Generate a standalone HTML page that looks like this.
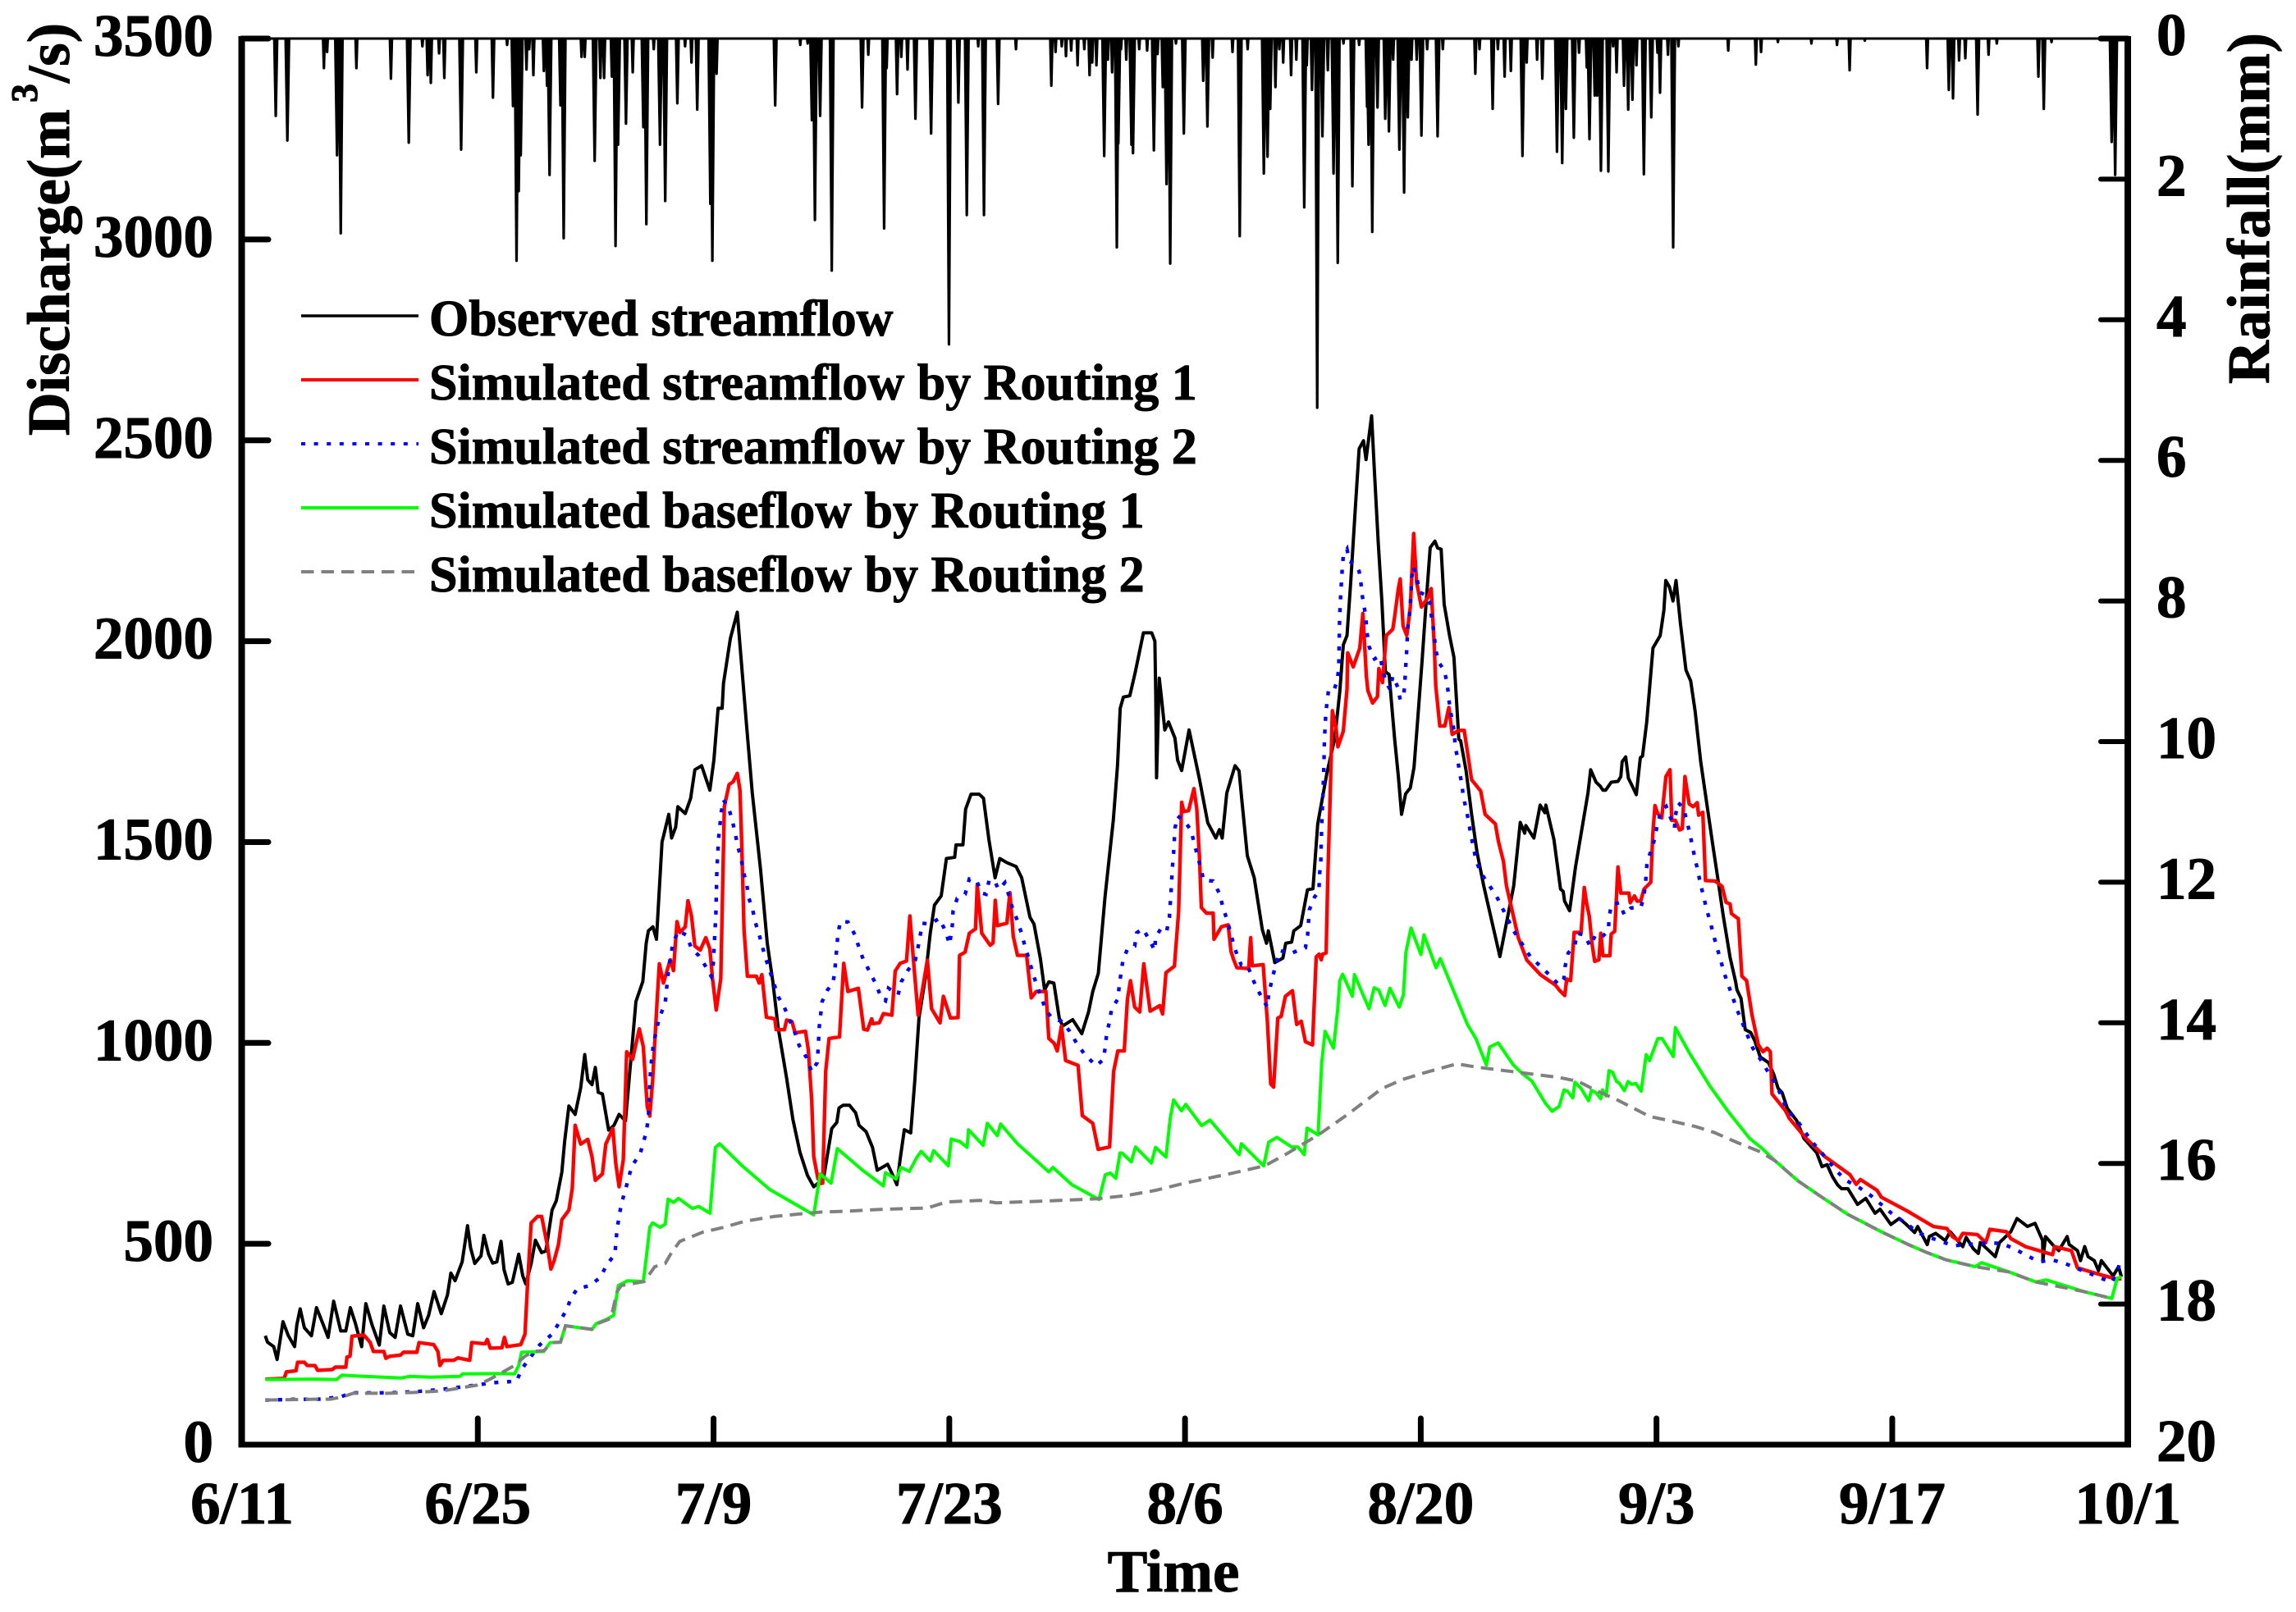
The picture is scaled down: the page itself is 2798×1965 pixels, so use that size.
<!DOCTYPE html>
<html>
<head>
<meta charset="utf-8">
<title>Discharge and rainfall hydrograph</title>
<style>
html,body{margin:0;padding:0;background:#fff;width:2798px;height:1965px;overflow:hidden}
svg{display:block}
text{font-family:"Liberation Serif",serif;font-weight:bold;fill:#000;stroke:#000;stroke-width:1px}
.tick-label{font-size:73px}
.legend-label{font-size:62px}
</style>
</head>
<body>
<svg id="chart" xmlns="http://www.w3.org/2000/svg" width="2798" height="1965" viewBox="0 0 2798 1965">
  <rect x="0" y="0" width="2798" height="1965" fill="#fff"/>
  <g id="series"></g>
  <g id="axes"></g>

  <text class="tick-label" x="1430" y="1940" text-anchor="middle">Time</text>
  <text class="tick-label" transform="translate(84,531) rotate(-90)" textLength="398">Discharge(m</text>
  <text transform="translate(45,125) rotate(-90)" style="font-size:46px">3</text>
  <text class="tick-label" transform="translate(84,101) rotate(-90)">/s)</text>
  <text class="tick-label" transform="translate(2765,468) rotate(-90)" textLength="428">Rainfall(mm)</text>

  <g>
    <g>
      <line x1="367" x2="510" y1="385" y2="385" stroke="#000" stroke-width="3.6"/>
      <text class="legend-label" x="523" y="409">Observed streamflow</text>
    </g>
    <g>
      <line x1="367" x2="510" y1="463" y2="463" stroke="#f00" stroke-width="4"/>
      <text class="legend-label" x="523" y="487">Simulated streamflow by Routing 1</text>
    </g>
    <g>
      <line x1="367" x2="510" y1="541" y2="541" stroke="#00f" stroke-width="4" stroke-dasharray="5 10.6"/>
      <text class="legend-label" x="523" y="565">Simulated streamflow by Routing 2</text>
    </g>
    <g>
      <line x1="367" x2="510" y1="619" y2="619" stroke="#0f0" stroke-width="4"/>
      <text class="legend-label" x="523" y="643">Simulated baseflow by Routing 1</text>
    </g>
    <g>
      <line x1="367" x2="510" y1="697" y2="697" stroke="#808080" stroke-width="4" stroke-dasharray="15.5 9"/>
      <text class="legend-label" x="523" y="721">Simulated baseflow by Routing 2</text>
    </g>
  </g>
</svg>
<script>
// Tick labels and tick values
const xTickDays = [0,14,28,42,56,70,84,98,112];
const xTickLabels = ["6/11","6/25","7/9","7/23","8/6","8/20","9/3","9/17","10/1"];
const dischargeTicks = [0,500,1000,1500,2000,2500,3000,3500];
const rainfallTicks = [0,2,4,6,8,10,12,14,16,18,20];

// Rainfall spikes: [day since 6/11, mm]
const rainfall = [[2.00,1.10],[2.69,1.45],[4.86,.42],[5.05,.19],[5.64,1.66],[5.86,2.77],[6.79,.42],[8.84,.57],[9.90,1.48],[10.71,.11],[11.02,.52],[11.21,.63],[11.70,.21],[12.01,.56],[13.01,1.58],[13.91,.48],[14.90,.84],[15.74,.09],[16.09,.96],[16.30,3.16],[16.43,2.17],[16.55,1.66],[16.89,.44],[17.05,.15],[17.30,.52],[17.92,.46],[18.11,.67],[18.26,1.94],[18.91,.95],[19.10,2.84],[20.16,.26],[20.35,.26],[20.94,1.74],[21.28,.56],[21.50,.56],[21.96,.54],[22.18,2.95],[22.33,1.51],[22.80,1.21],[23.20,.48],[23.83,1.26],[24.01,2.64],[24.45,.15],[24.82,1.51],[25.13,2.31],[25.85,.92],[26.31,.11],[26.69,.34],[27.03,1.01],[27.81,2.35],[27.93,3.16],[28.18,.50],[31.66,.95],[33.15,.09],[33.59,.07],[33.84,1.16],[34.02,2.58],[34.33,1.10],[35.02,3.30],[36.82,.98],[37.19,.23],[38.13,2.70],[38.28,.42],[38.90,.79],[39.15,.26],[39.52,.44],[39.99,1.14],[40.92,1.35],[41.98,4.35],[42.54,.91],[43.04,2.51],[43.72,.11],[44.06,2.51],[44.90,.93],[45.96,.15],[48.06,.67],[48.31,.19],[48.68,.11],[48.93,.25],[49.24,.17],[49.62,.38],[50.02,.15],[50.33,.52],[50.49,.34],[50.74,.38],[51.20,1.67],[51.42,.30],[51.67,.48],[51.95,2.97],[52.04,1.49],[52.20,.15],[52.51,.30],[52.82,1.51],[52.91,1.63],[53.28,.15],[53.75,.17],[54.15,1.59],[54.37,.22],[54.68,.69],[54.90,2.07],[55.12,3.20],[55.46,.07],[55.93,1.35],[57.08,.60],[57.33,1.25],[57.64,.27],[58.82,.19],[59.25,2.81],[59.72,.15],[60.68,1.92],[60.90,1.68],[61.06,1.00],[61.37,.69],[61.60,.15],[61.83,.34],[62.30,.52],[62.61,.30],[63.08,2.40],[63.23,.38],[63.54,.73],[63.85,5.25],[64.16,1.39],[64.48,.45],[64.82,1.92],[65.07,3.19],[65.41,.07],[65.94,2.10],[66.34,.09],[66.81,.97],[66.90,1.51],[67.12,2.75],[67.43,.98],[67.89,1.14],[68.11,1.32],[68.36,.30],[68.73,1.58],[69.01,2.19],[69.23,1.12],[69.45,.30],[69.76,.30],[70.04,1.38],[70.38,.15],[71.00,1.39],[71.31,.15],[73.24,.50],[73.49,.15],[74.27,1.00],[74.58,.15],[74.98,.54],[75.35,.46],[76.04,1.67],[76.29,.34],[76.91,.30],[77.22,.57],[78.09,1.61],[78.40,1.77],[78.62,1.00],[79.09,1.41],[79.40,.20],[79.86,.41],[80.02,1.43],[80.33,.81],[80.48,.81],[80.70,1.88],[81.14,1.89],[81.42,.11],[81.63,.48],[82.07,.67],[82.32,1.01],[82.57,.87],[82.81,.38],[83.25,1.93],[83.69,1.12],[84.06,.20],[84.21,.77],[84.68,.23],[84.99,2.97],[85.30,.11],[88.26,.17],[89.90,.37],[90.21,.19],[91.21,.05],[93.20,.07],[94.72,.09],[95.47,.45],[96.37,.03],[100.07,.42],[101.36,.73],[101.61,.85],[101.97,.31],[102.34,.28],[103.07,1.08],[103.72,.23],[104.21,.07],[106.68,.54],[107.00,1.00],[107.46,.05],[111.03,1.47],[111.24,1.94]];

// Hydrograph series: [day since 6/11, discharge m3/s]
const observedFlow = [[1.38,271],[1.51,255],[1.88,244],[2.08,212],[2.43,306],[2.75,271],[3.12,244],[3.25,298],[3.45,338],[3.70,291],[4.12,271],[4.42,341],[4.79,302],[5.11,267],[5.44,357],[5.86,283],[6.16,283],[6.43,341],[6.73,302],[7.10,244],[7.35,351],[7.72,298],[8.15,248],[8.42,345],[8.77,279],[9.09,267],[9.41,345],[9.84,275],[10.14,271],[10.43,351],[10.78,291],[11.08,322],[11.40,381],[11.83,326],[12.20,373],[12.40,427],[12.65,408],[13.07,455],[13.39,545],[13.57,490],[13.82,451],[14.19,470],[14.36,521],[14.64,474],[14.88,452],[15.13,455],[15.38,506],[15.56,435],[15.80,400],[16.05,404],[16.43,474],[16.67,420],[16.85,400],[17.17,451],[17.42,509],[17.79,478],[18.04,482],[18.41,584],[18.66,607],[18.99,678],[19.16,756],[19.41,843],[19.78,822],[20.11,888],[20.35,971],[20.53,908],[20.78,896],[20.98,939],[21.15,877],[21.40,873],[21.77,783],[22.09,795],[22.39,822],[22.77,806],[23.14,982],[23.39,1103],[23.80,1153],[24.00,1248],[24.13,1279],[24.40,1289],[24.61,1258],[24.94,1500],[25.10,1527],[25.34,1569],[25.51,1510],[25.75,1537],[25.88,1588],[26.32,1571],[26.64,1609],[26.89,1680],[27.29,1690],[27.78,1629],[28.02,1704],[28.27,1833],[28.51,1833],[28.59,1895],[29.00,2007],[29.41,2072],[29.65,1949],[29.97,1786],[30.30,1622],[30.79,1432],[31.19,1248],[31.52,1153],[31.84,1037],[32.34,912],[32.71,810],[33.13,728],[33.58,670],[33.95,642],[34.53,662],[35.02,787],[35.32,802],[35.45,838],[35.70,845],[36.07,845],[36.44,826],[36.64,795],[37.06,779],[37.44,740],[37.72,683],[38.34,698],[38.64,671],[38.89,647],[39.08,710],[39.33,784],[39.71,776],[39.95,905],[40.20,1062],[40.58,1163],[40.87,1273],[41.12,1343],[41.52,1366],[41.83,1459],[42.32,1462],[42.40,1493],[42.81,1493],[42.97,1582],[43.29,1619],[43.78,1619],[44.03,1609],[44.35,1507],[44.72,1411],[45.00,1459],[45.41,1449],[45.97,1439],[46.30,1411],[46.79,1313],[47.03,1296],[47.41,1210],[47.66,1132],[47.91,1152],[48.21,1149],[48.53,1062],[48.73,1042],[49.33,1058],[49.87,1023],[50.27,1077],[50.52,1128],[50.85,1173],[51.25,1364],[51.74,1554],[51.99,1690],[52.15,1833],[52.34,1861],[52.72,1864],[53.04,1922],[53.53,2021],[54.02,2021],[54.21,2000],[54.26,1867],[54.31,1660],[54.47,1908],[54.58,1867],[54.80,1779],[55.02,1799],[55.40,1759],[55.56,1704],[55.80,1678],[56.24,1779],[56.86,1656],[57.35,1548],[57.83,1510],[58.04,1531],[58.21,1510],[58.48,1622],[58.97,1690],[59.21,1677],[59.38,1602],[59.70,1466],[60.11,1411],[60.59,1282],[60.84,1248],[60.95,1279],[61.33,1200],[61.81,1211],[61.98,1248],[62.33,1251],[62.46,1279],[62.87,1292],[63.27,1381],[63.60,1384],[63.88,1545],[64.42,1670],[64.90,1760],[65.19,1874],[65.40,1991],[65.62,2014],[65.84,2147],[66.12,2335],[66.34,2479],[66.60,2499],[66.75,2452],[67.08,2561],[67.25,2421],[67.47,2249],[67.69,2100],[67.90,1924],[68.12,1917],[68.45,1756],[68.67,1663],[68.86,1569],[69.10,1620],[69.38,1635],[69.60,1686],[69.80,1795],[70.08,1952],[70.30,2085],[70.56,2233],[70.84,2249],[71.00,2232],[71.21,2229],[71.39,2092],[71.71,2014],[71.97,1960],[72.26,1756],[72.37,1752],[72.69,1678],[73.02,1569],[73.34,1475],[73.74,1391],[74.70,1215],[75.52,1391],[75.91,1549],[76.17,1522],[76.24,1541],[76.72,1510],[77.09,1592],[77.37,1573],[77.43,1592],[77.91,1506],[78.30,1383],[78.46,1377],[78.54,1353],[78.84,1329],[79.19,1438],[79.60,1540],[79.93,1622],[80.09,1680],[80.41,1649],[80.66,1639],[80.82,1629],[80.98,1629],[81.31,1649],[81.71,1651],[81.88,1663],[81.96,1700],[82.17,1712],[82.33,1659],[82.53,1642],[82.80,1618],[83.04,1710],[83.17,1714],[83.42,1799],[83.79,1983],[84.22,2014],[84.44,2077],[84.55,2151],[84.77,2135],[84.98,2100],[85.16,2151],[85.42,2045],[85.75,1928],[86.03,1901],[86.29,1827],[86.62,1702],[86.91,1618],[87.32,1499],[87.61,1418],[87.97,1315],[88.37,1213],[88.70,1152],[88.78,1132],[89.02,1111],[89.27,1033],[89.59,1026],[89.83,1006],[90.16,965],[90.65,951],[90.97,921],[91.22,887],[91.46,876],[91.77,837],[92.32,807],[92.76,762],[93.51,727],[93.83,692],[94.13,697],[94.45,667],[94.75,647],[94.99,637],[95.37,637],[95.94,598],[96.43,613],[96.98,576],[97.28,586],[97.92,548],[98.42,563],[98.84,548],[99.33,528],[99.51,543],[100.08,498],[100.20,518],[100.58,526],[101.15,508],[101.44,530],[102.19,493],[102.39,516],[102.81,488],[103.11,476],[103.23,503],[104.12,468],[104.37,503],[105.04,530],[105.41,563],[106.03,543],[106.48,551],[106.93,508],[106.95,458],[107.10,518],[107.52,498],[107.89,483],[108.39,518],[108.51,498],[109.00,483],[109.18,458],[109.43,493],[109.63,468],[110.00,458],[110.25,433],[110.42,458],[111.12,420],[111.44,443],[111.61,418]];

const simulatedStreamflow1 = [[1.38,163],[2.50,165],[2.63,181],[3.20,184],[3.30,205],[3.70,205],[3.87,197],[4.32,197],[4.49,185],[5.36,187],[5.54,193],[6.16,193],[6.23,218],[6.41,220],[6.53,270],[7.23,273],[7.60,255],[7.80,232],[8.42,232],[8.54,215],[8.77,220],[9.41,223],[9.59,230],[10.38,230],[10.51,254],[11.38,249],[11.63,232],[11.75,197],[11.95,210],[12.57,210],[12.82,216],[13.52,210],[13.64,254],[14.44,251],[14.56,262],[14.74,240],[15.43,241],[15.58,267],[15.73,244],[16.55,249],[16.80,275],[16.97,412],[17.17,552],[17.54,568],[17.79,568],[18.12,498],[18.34,437],[18.54,459],[18.79,498],[18.99,560],[19.41,584],[19.61,638],[19.78,795],[20.11,748],[20.53,760],[20.78,717],[20.98,658],[21.40,674],[21.60,748],[22.02,787],[22.19,701],[22.39,642],[22.64,709],[22.84,978],[23.19,959],[23.59,1035],[23.83,990],[24.06,842],[24.21,818],[24.38,904],[24.63,1092],[24.78,1197],[25.02,1149],[25.43,1207],[25.62,1180],[25.83,1302],[26.00,1275],[26.32,1289],[26.48,1354],[26.69,1316],[26.89,1241],[27.21,1231],[27.54,1262],[27.78,1234],[27.94,1160],[28.16,1082],[28.43,1160],[28.59,1486],[28.64,1588],[28.92,1643],[29.16,1650],[29.41,1671],[29.57,1629],[29.68,1486],[29.81,1282],[30.01,1166],[30.54,1166],[30.71,1149],[30.87,1170],[31.14,1064],[31.64,1060],[31.72,1033],[32.21,1033],[32.34,1057],[32.66,1053],[32.84,1025],[33.46,1029],[33.63,982],[33.83,857],[33.95,717],[34.20,662],[34.38,650],[34.48,651],[34.66,929],[34.86,1011],[35.48,1015],[35.73,1198],[35.98,1128],[36.60,1136],[36.92,1034],[37.14,1032],[37.39,1060],[37.47,1048],[37.84,1050],[38.09,1073],[38.59,1069],[38.79,1179],[39.08,1198],[39.46,1204],[39.66,1316],[39.88,1202],[40.15,1069],[40.70,1206],[40.95,1085],[41.45,1050],[41.65,1116],[42.07,1062],[42.52,1063],[42.61,1218],[42.94,1226],[43.19,1273],[43.56,1284],[43.66,1394],[43.93,1273],[44.43,1243],[44.60,1249],[44.73,1355],[44.85,1292],[45.42,1298],[45.60,1374],[45.80,1265],[46.05,1218],[46.59,1218],[46.87,1112],[47.16,1128],[47.74,1128],[47.91,1011],[48.23,999],[48.41,980],[48.66,1042],[48.91,956],[49.65,944],[49.90,819],[50.52,800],[50.84,735],[51.52,741],[51.76,929],[52.01,980],[52.39,980],[52.58,1109],[52.76,1155],[53.01,1089],[53.31,1077],[53.55,1197],[53.93,1079],[54.50,1093],[54.67,1072],[54.87,1175],[55.37,1191],[55.62,1327],[55.80,1599],[55.93,1576],[56.21,1578],[56.53,1633],[56.70,1582],[56.86,1459],[56.97,1337],[57.27,1323],[57.67,1323],[57.72,1258],[58.16,1289],[58.56,1294],[58.73,1228],[58.89,1207],[59.08,1187],[59.78,1185],[59.90,1262],[59.99,1192],[60.64,1195],[60.89,1054],[61.09,898],[61.26,890],[61.51,1062],[61.71,1066],[61.96,1116],[62.38,1130],[62.63,1046],[62.90,1054],[63.15,1003],[63.57,995],[63.79,1214],[63.96,1221],[64.09,1207],[64.17,1221],[64.38,1224],[64.47,1397],[64.64,1643],[64.75,1827],[64.97,1784],[65.08,1737],[65.40,1776],[65.62,1881],[65.66,1971],[65.99,1936],[66.38,1983],[66.56,2069],[66.77,1913],[66.86,1877],[67.14,1846],[67.43,1862],[67.51,1932],[67.73,1897],[67.95,2014],[68.34,2030],[68.45,2061],[68.67,2131],[68.78,2155],[68.95,2038],[69.17,2014],[69.38,2085],[69.58,2268],[69.75,2147],[70.04,2085],[70.41,2108],[70.62,2131],[70.80,1991],[70.89,1889],[71.13,1789],[71.43,1789],[71.67,1835],[71.87,1768],[72.26,1778],[72.58,1778],[72.80,1717],[73.02,1655],[73.56,1627],[73.82,1569],[74.43,1545],[74.61,1502],[74.91,1452],[75.09,1391],[75.80,1261],[76.30,1206],[77.10,1170],[78.00,1144],[78.22,1132],[78.55,1118],[78.67,1159],[78.90,1155],[79.11,1275],[79.52,1275],[79.71,1387],[79.84,1350],[80.01,1315],[80.17,1247],[80.33,1203],[80.58,1207],[80.69,1273],[80.82,1217],[81.23,1217],[81.31,1271],[81.52,1278],[81.71,1438],[81.88,1373],[82.36,1373],[82.44,1349],[82.69,1366],[82.85,1353],[83.06,1353],[83.26,1383],[83.66,1400],[83.78,1520],[83.91,1591],[84.07,1571],[84.31,1560],[84.56,1663],[84.80,1680],[84.91,1554],[85.12,1554],[85.37,1530],[85.53,1533],[85.69,1663],[85.94,1595],[86.18,1588],[86.42,1598],[86.50,1567],[86.75,1574],[86.91,1404],[87.48,1403],[87.89,1390],[88.13,1350],[88.37,1346],[88.45,1322],[88.86,1309],[89.07,1166],[89.35,1155],[89.67,1070],[90.05,995],[90.32,978],[90.57,987],[90.76,978],[90.86,873],[91.13,859],[91.65,832],[91.89,812],[92.89,762],[94.00,717],[95.49,672],[95.86,648],[96.11,660],[97.10,633],[97.35,616],[98.96,580],[100.45,543],[101.25,538],[101.57,518],[101.94,508],[102.19,526],[103.05,523],[103.55,503],[103.80,536],[104.79,530],[105.04,513],[105.91,493],[107.52,473],[107.64,493],[108.64,483],[109.00,440],[110.12,426],[111.24,413],[111.61,413]];

const simulatedStreamflow2 = [[1.38,111],[3.25,113],[4.49,113],[5.86,119],[6.48,129],[8.72,129],[10.33,132],[11.95,138],[14.19,150],[14.81,154],[16.30,158],[16.62,189],[17.67,248],[18.41,275],[18.79,301],[19.29,337],[19.53,365],[19.91,388],[20.65,396],[21.27,416],[21.65,447],[22.14,474],[22.27,537],[22.52,599],[22.77,635],[23.14,693],[23.64,724],[24.01,779],[24.13,814],[24.26,935],[24.43,998],[24.76,1060],[25.13,1100],[25.26,1156],[25.34,1187],[25.46,1217],[25.59,1248],[25.91,1279],[26.40,1268],[26.68,1236],[27.13,1217],[27.54,1190],[27.86,1166],[27.98,1197],[28.06,1258],[28.14,1323],[28.19,1418],[28.22,1449],[28.30,1510],[28.38,1542],[28.46,1575],[28.59,1605],[28.92,1582],[29.13,1551],[29.29,1520],[29.45,1488],[29.65,1456],[29.78,1425],[29.97,1394],[30.10,1360],[30.33,1330],[30.49,1299],[30.72,1268],[30.92,1236],[31.14,1205],[31.39,1173],[31.84,1115],[32.21,1088],[32.84,1025],[33.08,994],[33.53,963],[33.83,928],[34.15,951],[34.20,978],[34.28,1041],[34.45,1103],[34.77,1132],[35.09,1149],[35.20,1177],[35.25,1207],[35.33,1240],[35.38,1270],[35.53,1302],[35.98,1301],[36.41,1268],[36.63,1238],[36.88,1209],[37.25,1179],[37.61,1149],[37.97,1112],[38.21,1105],[38.39,1136],[38.96,1120],[39.16,1153],[39.53,1180],[39.98,1206],[40.13,1235],[40.28,1269],[40.40,1298],[40.87,1296],[41.40,1310],[41.77,1279],[42.02,1245],[42.19,1296],[42.22,1327],[42.47,1360],[42.94,1370],[43.19,1408],[43.61,1405],[43.93,1373],[44.18,1370],[44.36,1404],[44.68,1404],[44.93,1382],[45.30,1399],[45.55,1366],[45.75,1335],[46.05,1304],[46.29,1273],[46.49,1241],[46.72,1210],[46.92,1179],[47.16,1148],[47.46,1114],[47.71,1084],[48.08,1062],[48.66,1054],[49.15,1029],[49.58,998],[50.07,970],[50.72,943],[51.14,958],[51.27,990],[51.34,1021],[51.52,1054],[51.64,1085],[52.01,1109],[52.09,1141],[52.19,1171],[52.31,1205],[52.58,1234],[53.01,1241],[53.13,1274],[53.50,1284],[53.93,1253],[54.20,1230],[54.25,1263],[54.62,1288],[54.92,1280],[55.07,1312],[55.12,1345],[55.17,1376],[55.25,1437],[55.32,1472],[55.40,1534],[55.56,1565],[55.97,1551],[56.34,1531],[56.53,1500],[56.73,1467],[56.94,1435],[57.10,1405],[57.67,1403],[58.04,1372],[58.24,1340],[58.48,1308],[58.69,1277],[58.89,1245],[59.13,1214],[59.34,1194],[59.70,1194],[60.02,1159],[60.34,1130],[60.67,1105],[60.89,1089],[60.97,1122],[61.14,1153],[61.34,1187],[61.64,1230],[62.26,1222],[62.90,1234],[63.15,1237],[63.28,1269],[63.38,1331],[63.69,1363],[63.95,1378],[64.00,1425],[64.06,1442],[64.09,1503],[64.14,1565],[64.20,1629],[64.25,1694],[64.28,1755],[64.36,1820],[64.44,1850],[64.53,1881],[64.87,1881],[65.01,1898],[65.13,1929],[65.14,1963],[65.18,2057],[65.25,2120],[65.34,2182],[65.40,2213],[65.62,2229],[65.77,2198],[66.06,2194],[66.34,2174],[66.45,2143],[66.53,2112],[66.66,2081],[66.75,2049],[66.82,2018],[66.93,1987],[67.10,1969],[67.25,1956],[67.58,1963],[67.73,1932],[67.91,1901],[68.17,1880],[68.34,1913],[68.64,1885],[68.78,1854],[69.00,1870],[69.06,1901],[69.10,1932],[69.15,1966],[69.19,1997],[69.21,2028],[69.32,2060],[69.38,2091],[69.43,2124],[69.45,2155],[69.56,2186],[69.78,2155],[69.93,2122],[70.23,2116],[70.52,2099],[70.62,2067],[70.73,2036],[70.82,2006],[70.91,1974],[71.10,1945],[71.39,1928],[71.56,1897],[71.65,1864],[71.73,1833],[71.87,1802],[72.00,1770],[72.04,1739],[72.19,1708],[72.30,1674],[72.45,1643],[72.52,1614],[72.69,1583],[72.84,1552],[72.97,1518],[73.13,1487],[73.28,1455],[73.56,1424],[74.50,1365],[75.50,1280],[76.50,1215],[77.50,1175],[78.20,1145],[78.50,1160],[78.58,1192],[78.76,1224],[79.15,1242],[79.28,1273],[79.71,1269],[80.06,1241],[80.38,1269],[80.77,1264],[81.14,1280],[81.19,1312],[81.31,1344],[81.79,1349],[82.09,1319],[82.48,1336],[83.06,1337],[83.22,1358],[83.34,1392],[83.39,1422],[83.45,1454],[83.76,1486],[83.92,1516],[84.07,1548],[84.31,1580],[84.57,1589],[84.86,1558],[85.07,1535],[85.12,1566],[85.29,1598],[85.61,1584],[85.79,1554],[85.98,1522],[86.13,1490],[86.29,1458],[86.46,1428],[86.60,1397],[86.80,1365],[86.96,1334],[87.19,1302],[87.37,1271],[87.58,1239],[87.80,1208],[88.00,1176],[88.26,1145],[88.53,1113],[88.78,1083],[89.10,1050],[89.40,1019],[89.72,987],[90.19,958],[90.65,926],[90.97,905],[91.35,874],[91.77,832],[92.27,812],[92.84,777],[93.38,747],[94.00,717],[94.67,682],[95.29,657],[96.04,640],[96.73,620],[97.43,595],[98.09,571],[98.84,551],[99.51,528],[100.20,516],[100.90,506],[101.64,495],[102.39,498],[103.05,500],[103.80,503],[104.54,500],[105.24,488],[105.98,471],[106.73,455],[107.47,460],[108.21,452],[108.88,440],[109.63,428],[110.30,416],[111.04,404],[111.36,428],[111.54,458]];

const simulatedBaseflow1 = [[1.38,162],[4.24,163],[5.61,162],[5.93,173],[6.73,171],[9.46,166],[9.96,170],[11.20,168],[12.95,170],[13.09,176],[15.18,177],[16.18,176],[16.43,197],[16.60,230],[17.92,232],[18.29,254],[18.91,255],[19.21,296],[20.78,287],[21.03,301],[21.65,312],[22.07,322],[22.34,396],[22.89,408],[23.83,406],[24.01,467],[24.21,541],[24.38,552],[24.83,541],[25.13,549],[25.30,611],[25.63,603],[25.92,613],[26.74,588],[27.12,593],[27.79,576],[28.11,740],[28.36,749],[29.73,693],[31.34,635],[33.95,572],[34.33,674],[34.98,651],[35.35,737],[36.85,683],[38.09,644],[38.21,677],[38.84,661],[39.13,690],[39.63,680],[40.08,716],[40.33,730],[40.87,706],[41.07,732],[41.94,694],[42.12,761],[42.32,758],[42.61,755],[43.06,740],[43.14,784],[44.01,745],[44.26,800],[44.85,769],[45.05,798],[46.05,749],[47.91,679],[48.16,690],[49.28,647],[50.89,610],[51.27,672],[51.57,676],[51.89,663],[52.14,726],[52.26,726],[52.81,704],[53.06,741],[54.00,701],[54.25,740],[54.87,716],[55.12,812],[55.32,858],[55.79,831],[56.04,847],[56.99,794],[57.48,808],[59.22,722],[59.35,749],[60.67,694],[60.97,753],[61.46,765],[62.33,741],[62.70,741],[63.08,722],[63.25,788],[63.90,771],[64.12,952],[64.32,1029],[64.82,987],[65.07,1085],[65.19,1155],[65.36,1171],[65.94,1116],[66.06,1170],[66.93,1085],[67.23,1137],[67.50,1132],[67.88,1093],[68.17,1136],[68.72,1089],[68.97,1120],[69.12,1226],[69.42,1286],[70.01,1220],[70.19,1269],[70.91,1187],[71.16,1210],[72.77,1046],[73.27,1011],[73.90,945],[74.10,990],[74.60,1000],[75.50,945],[76.00,925],[76.60,905],[77.40,850],[77.80,830],[78.22,842],[78.51,883],[78.71,880],[79.03,863],[79.16,902],[79.52,887],[79.76,870],[79.97,856],[80.14,882],[80.41,876],[80.69,861],[80.79,883],[81.01,868],[81.18,931],[81.39,927],[81.63,904],[81.79,900],[82.09,881],[82.31,904],[82.52,897],[82.77,899],[83.09,880],[83.39,971],[83.59,956],[84.08,1011],[84.33,1011],[85.00,966],[85.12,1038],[85.94,976],[87.18,892],[88.30,827],[89.54,762],[90.28,737],[91.03,707],[92.39,657],[93.75,618],[95.37,573],[97.35,530],[98.96,498],[99.95,480],[101.20,460],[102.93,443],[103.30,453],[104.92,430],[106.53,405],[107.15,410],[109.38,381],[111.04,364],[111.36,414],[111.61,418]];

const simulatedBaseflow2 = [[1.38,111],[4.24,113],[5.24,113],[5.98,119],[6.60,128],[8.72,128],[10.21,130],[11.95,134],[13.94,148],[14.68,162],[16.18,197],[16.80,220],[17.30,232],[17.92,234],[18.41,254],[18.91,255],[19.21,296],[20.78,287],[21.15,302],[21.90,314],[22.27,381],[22.52,396],[23.88,406],[24.51,443],[25.13,451],[25.50,478],[26.00,506],[27.37,529],[28.61,541],[29.85,556],[31.59,568],[33.08,574],[34.36,579],[35.85,581],[38.09,586],[40.70,589],[41.82,604],[43.81,608],[44.80,602],[48.03,607],[50.77,612],[52.51,620],[54.25,633],[55.99,651],[58.73,675],[60.72,694],[61.96,722],[63.95,772],[65.69,823],[67.68,886],[68.92,909],[70.16,925],[72.15,948],[73.27,940],[78.22,914],[79.36,904],[80.49,880],[81.63,859],[83.59,817],[84.95,805],[86.31,792],[87.43,777],[88.80,752],[90.16,729],[91.03,707],[92.39,657],[93.75,618],[95.37,573],[97.35,530],[98.96,498],[99.95,480],[101.20,460],[102.93,443],[104.92,430],[106.53,405],[109.38,381],[111.04,364]];

// Axis functions
function xScale(day){ return 295 + day * 20.52; }
function yDischarge(q){ return 1761 - q * 0.4897; }
function yRainfall(mm){ return 47 + mm * 85.7; }

const SVGNS = 'http://www.w3.org/2000/svg';
const seriesGroup = document.getElementById('series');
const axesGroup = document.getElementById('axes');

function linePath(points){
  const sorted = points.slice().sort(function(a,b){ return a[0]-b[0]; });
  let d = '';
  sorted.forEach(function(p,i){
    d += (i===0?'M':'L') + xScale(p[0]).toFixed(2) + ' ' + yDischarge(p[1]).toFixed(2);
  });
  return d;
}

function rainPath(spikes){
  let d = '';
  spikes.forEach(function(s){
    const halfWidth = 0.03 + 0.05 * Math.min(s[1], 1.5);
    d += 'M' + xScale(s[0]-halfWidth).toFixed(2) + ' ' + yRainfall(0).toFixed(2);
    d += 'L' + xScale(s[0]).toFixed(2) + ' ' + yRainfall(s[1]).toFixed(2);
    d += 'L' + xScale(s[0]+halfWidth).toFixed(2) + ' ' + yRainfall(0).toFixed(2);
  });
  return d;
}

// Rainfall hyetograph
const rainBase = document.createElementNS(SVGNS,'line');


rainBase.setAttribute('x1', xScale(0));
rainBase.setAttribute('x2', xScale(112));
rainBase.setAttribute('y1', yRainfall(0));
rainBase.setAttribute('y2', yRainfall(0));
rainBase.setAttribute('stroke', '#000');
rainBase.setAttribute('stroke-width', '3');
seriesGroup.appendChild(rainBase);

const rainLine = document.createElementNS(SVGNS,'path');


rainLine.setAttribute('d', rainPath(rainfall));
rainLine.setAttribute('fill', '#000');
rainLine.setAttribute('stroke', '#000');
rainLine.setAttribute('stroke-width', '3.2');
rainLine.setAttribute('stroke-linejoin', 'round');
seriesGroup.appendChild(rainLine);

// Hydrograph lines
const observedLine = document.createElementNS(SVGNS,'path');


observedLine.setAttribute('d', linePath(observedFlow));
observedLine.setAttribute('fill', 'none');
observedLine.setAttribute('stroke', '#000');
observedLine.setAttribute('stroke-width', '4');
observedLine.setAttribute('stroke-linejoin', 'round');
seriesGroup.appendChild(observedLine);

const streamflow1Line = document.createElementNS(SVGNS,'path');


streamflow1Line.setAttribute('d', linePath(simulatedStreamflow1));
streamflow1Line.setAttribute('fill', 'none');
streamflow1Line.setAttribute('stroke', '#f00');
streamflow1Line.setAttribute('stroke-width', '4.4');
streamflow1Line.setAttribute('stroke-linejoin', 'round');
seriesGroup.appendChild(streamflow1Line);

const streamflow2Line = document.createElementNS(SVGNS,'path');


streamflow2Line.setAttribute('d', linePath(simulatedStreamflow2));
streamflow2Line.setAttribute('fill', 'none');
streamflow2Line.setAttribute('stroke', '#00f');
streamflow2Line.setAttribute('stroke-width', '4.4');
streamflow2Line.setAttribute('stroke-dasharray', '5 10.6');
seriesGroup.appendChild(streamflow2Line);

const baseflow1Line = document.createElementNS(SVGNS,'path');


baseflow1Line.setAttribute('d', linePath(simulatedBaseflow1));
baseflow1Line.setAttribute('fill', 'none');
baseflow1Line.setAttribute('stroke', '#0f0');
baseflow1Line.setAttribute('stroke-width', '4');
baseflow1Line.setAttribute('stroke-linejoin', 'round');
seriesGroup.appendChild(baseflow1Line);

const baseflow2Line = document.createElementNS(SVGNS,'path');


baseflow2Line.setAttribute('d', linePath(simulatedBaseflow2));
baseflow2Line.setAttribute('fill', 'none');
baseflow2Line.setAttribute('stroke', '#808080');
baseflow2Line.setAttribute('stroke-width', '4');
baseflow2Line.setAttribute('stroke-dasharray', '15.5 9');
seriesGroup.appendChild(baseflow2Line);

// Axis frame
const leftAxis = document.createElementNS(SVGNS,'line');


leftAxis.setAttribute('x1', 294.5);
leftAxis.setAttribute('x2', 294.5);
leftAxis.setAttribute('y1', 44);
leftAxis.setAttribute('y2', 1764.5);
leftAxis.setAttribute('stroke', '#000');
leftAxis.setAttribute('stroke-width', '8');
axesGroup.appendChild(leftAxis);

const rightAxis = document.createElementNS(SVGNS,'line');


rightAxis.setAttribute('x1', 2593);
rightAxis.setAttribute('x2', 2593);
rightAxis.setAttribute('y1', 44);
rightAxis.setAttribute('y2', 1764.5);
rightAxis.setAttribute('stroke', '#000');
rightAxis.setAttribute('stroke-width', '8');
axesGroup.appendChild(rightAxis);

const bottomAxis = document.createElementNS(SVGNS,'line');


bottomAxis.setAttribute('x1', 290.5);
bottomAxis.setAttribute('x2', 2597);
bottomAxis.setAttribute('y1', 1761);
bottomAxis.setAttribute('y2', 1761);
bottomAxis.setAttribute('stroke', '#000');
bottomAxis.setAttribute('stroke-width', '7');
axesGroup.appendChild(bottomAxis);

// X ticks and labels
xTickDays.forEach(function(day,i){
  if(day>0 && day<112){
    const tick = document.createElementNS(SVGNS,'line');
    
    
    tick.setAttribute('x1', xScale(day));
    tick.setAttribute('x2', xScale(day));
    tick.setAttribute('y1', 1761);
    tick.setAttribute('y2', 1729);
    tick.setAttribute('stroke', '#000');
    tick.setAttribute('stroke-width', '7');
    tick.setAttribute('stroke-linecap', 'round');
    axesGroup.appendChild(tick);
  }
  const label = document.createElementNS(SVGNS,'text');
  
  
  label.setAttribute('class', 'tick-label');
  label.setAttribute('x', xScale(day));
  label.setAttribute('y', 1857);
  label.setAttribute('text-anchor', 'middle');
  label.textContent = xTickLabels[i];
  axesGroup.appendChild(label);
});

// Discharge ticks and labels
dischargeTicks.forEach(function(q){
  if(q>0){
    const tick = document.createElementNS(SVGNS,'line');
    
    
    tick.setAttribute('x1', 294.5);
    tick.setAttribute('x2', 327);
    tick.setAttribute('y1', yDischarge(q));
    tick.setAttribute('y2', yDischarge(q));
    tick.setAttribute('stroke', '#000');
    tick.setAttribute('stroke-width', '7');
    tick.setAttribute('stroke-linecap', 'round');
    axesGroup.appendChild(tick);
  }
  const label = document.createElementNS(SVGNS,'text');
  
  
  label.setAttribute('class', 'tick-label');
  label.setAttribute('x', 260);
  label.setAttribute('y', yDischarge(q) + 21);
  label.setAttribute('text-anchor', 'end');
  label.textContent = String(q);
  axesGroup.appendChild(label);
});

// Rainfall ticks and labels
rainfallTicks.forEach(function(mm){
  if(mm<20){
    const tick = document.createElementNS(SVGNS,'line');
    
    
    tick.setAttribute('x1', 2593);
    tick.setAttribute('x2', 2560);
    tick.setAttribute('y1', yRainfall(mm));
    tick.setAttribute('y2', yRainfall(mm));
    tick.setAttribute('stroke', '#000');
    tick.setAttribute('stroke-width', mm===0 ? '7' : '6');
    tick.setAttribute('stroke-linecap', 'round');
    axesGroup.appendChild(tick);
  }
  const label = document.createElementNS(SVGNS,'text');
  
  
  label.setAttribute('class', 'tick-label');
  label.setAttribute('x', 2628);
  label.setAttribute('y', yRainfall(mm) + 20);
  label.textContent = String(mm);
  axesGroup.appendChild(label);
});
</script>
</body>
</html>
